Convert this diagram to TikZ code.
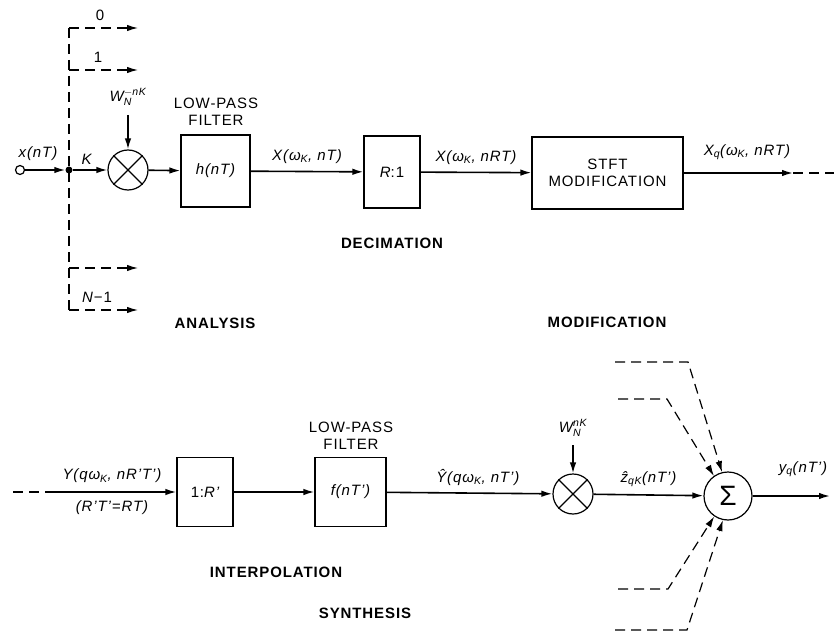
\documentclass[tikz,border=0pt]{standalone}
\usepackage{amsmath}
\usepackage{fontspec}
\setmainfont[LetterSpace=6]{Liberation Sans}
\usetikzlibrary{arrows.meta}

\begin{document}
\begin{tikzpicture}[x=1pt, y=-1pt,
    every node/.style={font=\fontsize{15}{17}\selectfont},
    sig/.style={line width=1.6pt, -{Latex[length=11pt,width=6.5pt]}},
    feed/.style={line width=1.2pt, dash pattern=on 10pt off 6pt},
    blk/.style={draw, line width=1.2pt, inner sep=0pt, align=center},
    mult/.style={draw, line width=1.2pt, circle, minimum size=40pt, inner sep=0pt},
    stagelab/.style={font=\fontsize{15}{17}\selectfont\bfseries},
    lab/.style={font=\fontsize{15}{17}\selectfont\itshape, inner sep=1pt}]
                \useasboundingbox (0,0) rectangle (834,636);

                % Analysis: input, branch point and channels
                \node[draw, circle, line width=1.2pt, minimum size=9pt, inner sep=0pt] (xin) at (20,170) {};
                \node[circle, fill, minimum size=7pt, inner sep=0pt] (jn) at (69,170) {};
                \coordinate (vtop) at (69,28);
                \coordinate (vbot) at (69,310);
                \draw[feed] (vtop) -- (vbot);
                \foreach \y/\nm in {28/a, 70/b, 268/c, 310/d} {
                    \coordinate (bs\nm) at (69,\y);
                    \coordinate (be\nm) at (138,\y);
                    \draw[feed, -{Latex[length=11pt,width=6.5pt]}] (bs\nm) -- (be\nm);
                }
                \node (ch0) at (100,15) {0};
                \node (ch1) at (98,57) {1};
                \node[lab] (chN) at (97,297) {N\textup{−1}};
                \draw[sig] (xin) -- (jn);
                \node[lab] (xlab) at (38,154) {x(nT)};

                % Modulator and low-pass filter
                \node[mult] (mul1) at (128,170) {};
                \draw[line width=1.2pt] (mul1.north west) -- (mul1.south east) (mul1.north east) -- (mul1.south west);
                \draw[sig] (jn) -- (mul1) node[lab, pos=0.4, above=4pt] (klab) {K};
                \node[lab] (w1) at (128,97) {$\textit{W}_{\textit{N}}^{-\textit{nK}}$};
                \coordinate (w1s) at (128,115);
                \draw[sig] (w1s) -- (mul1);
                \node[blk, minimum width=69pt, minimum height=72pt] (hfil) at (215.5,171) {\itshape h(nT)};
                \node[align=center] (lp1) at (216,112) {LOW-PASS\\FILTER};
                \draw[sig] (mul1) -- (hfil);

                % Decimation
                \node[blk, minimum width=56pt, minimum height=72pt] (dec) at (392,172) {\itshape R\upshape :1};
                \draw[sig] (hfil) -- (dec) node[lab, midway, above=6pt] (xlab1) {X(ω\textsubscript{\textit{K}}, nT)};
                \node[stagelab] (decl) at (392,243) {DECIMATION};
                \node[stagelab] (anl) at (215,323) {ANALYSIS};

                % Modification
                \node[blk, minimum width=151pt, minimum height=72pt] (stft) at (607.5,173) {STFT\\MODIFICATION};
                \draw[sig] (dec) -- (stft) node[lab, midway, above=6pt] (xlab2) {X(ω\textsubscript{\textit{K}}, nRT)};
                \coordinate (xqend) at (793,173);
                \coordinate (xqdash) at (834,173);
                \draw[sig] (stft) -- (xqend);
                \draw[feed, line width=1.6pt] (xqend) -- (xqdash);
                \node[lab] (xqlab) at (747,152) {X\textsubscript{\textit{q}}(ω\textsubscript{\textit{K}}, nRT)};
                \node[stagelab] (modl) at (607,322) {MODIFICATION};

                % Synthesis: interpolation
                \coordinate (yin) at (13,492);
                \coordinate (ysol) at (55,492);
                \draw[feed, line width=1.6pt] (yin) -- (ysol);
                \node[blk, minimum width=56pt, minimum height=69pt] (intp) at (205,492) {1:\itshape R’};
                \draw[sig] (ysol) -- (intp);
                \node[lab] (ylab) at (112,476) {Y(qω\textsubscript{\textit{K}}, nR’T’)};
                \node[lab] (rtlab) at (112,508) {(R’T’=RT)};
                \node[blk, minimum width=71pt, minimum height=69pt] (ffil) at (350.5,492) {\itshape f(nT’)};
                \node[align=center] (lp2) at (351,436) {LOW-PASS\\FILTER};
                \draw[sig] (intp) -- (ffil);
                \node[stagelab] (intl) at (276,572) {INTERPOLATION};
                \node[stagelab] (synl) at (365,613) {SYNTHESIS};

                % Demodulator and summation
                \node[mult] (mul2) at (573,494) {};
                \draw[line width=1.2pt] (mul2.north west) -- (mul2.south east) (mul2.north east) -- (mul2.south west);
                \draw[sig] (ffil) -- (mul2) node[lab, pos=0.55, above=6pt] (yhlab) {Ŷ(qω\textsubscript{\textit{K}}, nT’)};
                \node[lab] (w2) at (573,428) {$\textit{W}_{\textit{N}}^{\textit{nK}}$};
                \coordinate (w2s) at (573,445);
                \draw[sig] (w2s) -- (mul2);
                \node[draw, circle, line width=1.2pt, minimum size=48pt, inner sep=0pt, font=\fontsize{28}{30}\selectfont] (sum) at (728,496) {Σ};
                \draw[sig] (mul2) -- (sum) node[lab, midway, above=6pt] (zlab) {ẑ\textsubscript{\textit{qK}}(nT’)};
                \coordinate (yqend) at (830,496);
                \draw[sig] (sum) -- (yqend);
                \node[lab] (yqlab) at (803,469) {y\textsubscript{\textit{q}}(nT’)};

                % Other channels into the sum
                \foreach \y/\xa/\xb/\ang/\nm in {362/615/688/104/a, 399/618/667/125/b, 589/618/668/236/c, 630/615/687/258/d} {
                    \coordinate (fs\nm) at (\xa,\y);
                    \coordinate (fk\nm) at (\xb,\y);
                    \draw[feed, -{Latex[length=11pt,width=6.5pt]}] (fs\nm) -- (fk\nm) -- (sum.\ang);
                }
\end{tikzpicture}
\end{document}
